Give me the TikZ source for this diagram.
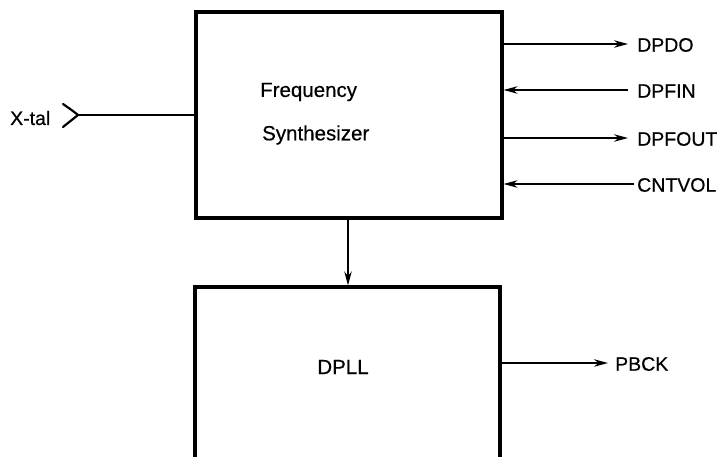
\documentclass[tikz,border=0pt]{standalone}
\usepackage{fontspec}
\setmainfont[FakeBold=0.5,AutoFakeBold=0.5]{Liberation Sans}
\usetikzlibrary{arrows.meta,calc}
\begin{document}
\begin{tikzpicture}[x=1pt,y=-1pt,
  blockbox/.style={draw,line width=3.2pt,inner sep=0pt},
  lbl/.style={font=\fontsize{19.5}{22}\selectfont\bfseries,inner sep=0pt,anchor=west},
  inlbl/.style={font=\fontsize{20.5}{24}\selectfont\bfseries,inner sep=0pt,anchor=west},
  conn/.style={line width=1.4pt,-{Stealth[length=14pt,width=7.5pt]}},
  ]
\useasboundingbox (0,0) rectangle (719,457);
\clip (0,0) rectangle (719,457);
% blocks
\node[blockbox,minimum width=306pt,minimum height=206pt] (fs) at (349,115) {};
\node[blockbox,minimum width=305pt,minimum height=300pt] (dpll) at (347.5,437) {};
% texts in blocks
\node[inlbl] (freq) at (260,92) {Frequency};
\node[inlbl] (synth) at (262,135) {Synthesizer};
\node[inlbl,anchor=center] (dplltxt) at (343,367) {DPLL};
% right labels
\node[lbl] (dpdo) at (637,45) {DPDO};
\node[lbl] (dpfin) at (637,91) {DPFIN};
\node[lbl] (dpfout) at (637,139) {DPFOUT};
\node[lbl] (cntvol) at (637,185) {CNTVOL};
\node[lbl] (pbck) at (615,364) {PBCK};
% X-tal input
\node[lbl] (xtal) at (10,118) {X-tal};
\coordinate (chev) at (78,115);
\draw[line width=2.2pt,line join=round,line cap=round] ($(chev)+(-15,-11)$) .. controls ($(chev)+(-5,-4)$) .. (chev) .. controls ($(chev)+(-5,4)$) .. ($(chev)+(-15,12)$);
\draw[line width=1.6pt] (chev) -- (fs.west |- chev);
% outputs / inputs
\draw[conn] (fs.east |- 0,44) -- (628,44) coordinate (dpdoend);
\draw[conn] ($(dpfin.west)+(-9,-1)$) -- (fs.east |- 0,90);
\draw[conn] (fs.east |- 0,138) -- (628,138) coordinate (dpfoutend);
\draw[conn] ($(cntvol.west)+(-3,-1)$) -- (fs.east |- 0,184);
\draw[conn] (fs.south -| 348,0) -- (dpll.north -| 348,0);
\draw[conn] (dpll.east |- 0,363) -- ($(pbck.west)+(-7,-1)$);
\end{tikzpicture}
\end{document}
